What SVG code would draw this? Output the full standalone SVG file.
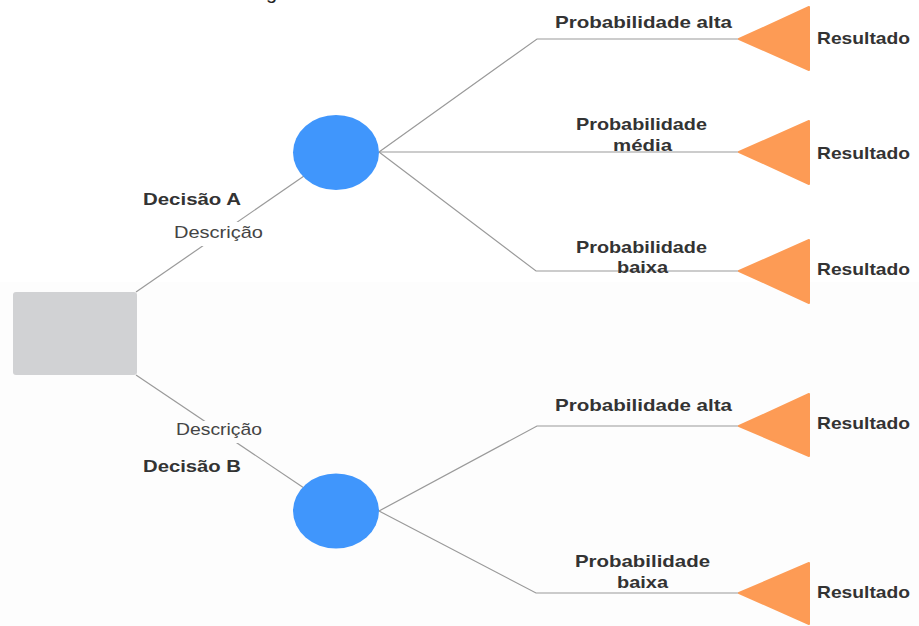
<svg xmlns="http://www.w3.org/2000/svg" width="919" height="626" viewBox="0 0 919 626">
<defs>
<style>
.bold{font-family:"Liberation Sans",Arial,sans-serif;font-weight:bold;font-size:17px;fill:#333333}
.reg{font-family:"Liberation Sans",Arial,sans-serif;font-size:17px;fill:#444444}
.conn{fill:none;stroke:#9a9a9a;stroke-width:1.2}
.chance{fill:#4096fc}
.end{fill:#fd9b55;stroke:#fd9b55;stroke-width:2;stroke-linejoin:round}
</style>
</defs>
<rect x="0" y="0" width="919" height="626" fill="#ffffff"/>
<rect x="0" y="282" width="919" height="344" fill="#fdfdfd"/>
<text x="266" y="-1" class="reg" style="font-size:20px;fill:#222">g</text>

<g id="connectors">
<line class="conn" x1="136" y1="292" x2="304" y2="176"/>
<line class="conn" x1="136" y1="375" x2="304" y2="488"/>
<polyline class="conn" points="379,152 537,39 740,39"/>
<polyline class="conn" points="379,152 740,152"/>
<polyline class="conn" points="379,152 536,271 740,271"/>
<polyline class="conn" points="379,511 537,426 740,426"/>
<polyline class="conn" points="379,511 536,593 740,593"/>
</g>

<g id="decision">
<rect x="13" y="292" width="124" height="83" rx="3" fill="#d1d2d4"/>
</g>

<g id="labelA">
<text x="143" y="205" class="bold" textLength="98" lengthAdjust="spacingAndGlyphs">Decisão A</text>
<rect x="172" y="222" width="94" height="24" fill="#ffffff"/>
<text x="174" y="238" class="reg" textLength="89" lengthAdjust="spacingAndGlyphs">Descrição</text>
</g>
<g id="labelB">
<rect x="174" y="421" width="90" height="22" fill="#fdfdfd"/>
<text x="176" y="435" class="reg" textLength="86" lengthAdjust="spacingAndGlyphs">Descrição</text>
<text x="143" y="472" class="bold" textLength="98" lengthAdjust="spacingAndGlyphs">Decisão B</text>
</g>

<g id="chanceA">
<ellipse class="chance" cx="336" cy="152.5" rx="43" ry="37.5"/>
</g>
<g id="chanceB">
<ellipse class="chance" cx="336" cy="511" rx="43" ry="37.5"/>
</g>

<g id="branchA1">
<text x="555" y="28" class="bold" textLength="177" lengthAdjust="spacingAndGlyphs">Probabilidade alta</text>
</g>
<g id="branchA2">
<text x="576" y="130" class="bold" textLength="131" lengthAdjust="spacingAndGlyphs">Probabilidade</text>
<text x="613" y="151" class="bold" textLength="59" lengthAdjust="spacingAndGlyphs">média</text>
</g>
<g id="branchA3">
<text x="576" y="253" class="bold" textLength="131" lengthAdjust="spacingAndGlyphs">Probabilidade</text>
<text x="617" y="273" class="bold" textLength="51" lengthAdjust="spacingAndGlyphs">baixa</text>
</g>
<g id="branchB1">
<text x="555" y="411" class="bold" textLength="177" lengthAdjust="spacingAndGlyphs">Probabilidade alta</text>
</g>
<g id="branchB2">
<text x="575" y="567" class="bold" textLength="135" lengthAdjust="spacingAndGlyphs">Probabilidade</text>
<text x="617" y="588" class="bold" textLength="51" lengthAdjust="spacingAndGlyphs">baixa</text>
</g>

<g id="result1">
<polygon class="end" points="739,39 809,7 809,70"/>
<text x="817" y="44" class="bold" textLength="93" lengthAdjust="spacingAndGlyphs">Resultado</text>
</g>
<g id="result2">
<polygon class="end" points="739,152 809,121 809,184"/>
<text x="817" y="159" class="bold" textLength="93" lengthAdjust="spacingAndGlyphs">Resultado</text>
</g>
<g id="result3">
<polygon class="end" points="739,271 809,240 809,303"/>
<text x="817" y="275" class="bold" textLength="93" lengthAdjust="spacingAndGlyphs">Resultado</text>
</g>
<g id="result4">
<polygon class="end" points="739,426 809,394 809,456"/>
<text x="817" y="429" class="bold" textLength="93" lengthAdjust="spacingAndGlyphs">Resultado</text>
</g>
<g id="result5">
<polygon class="end" points="739,593 809,563 809,624"/>
<text x="817" y="598" class="bold" textLength="93" lengthAdjust="spacingAndGlyphs">Resultado</text>
</g>
</svg>
